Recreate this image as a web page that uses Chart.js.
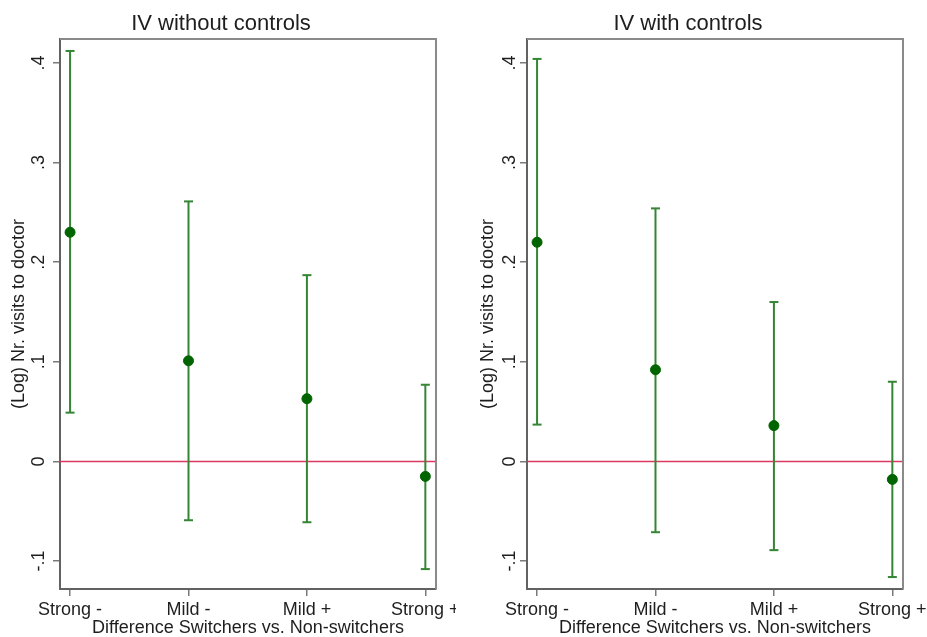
<!DOCTYPE html>
<html>
<head>
<meta charset="utf-8">
<script src="https://cdn.jsdelivr.net/npm/chart.js@4.4.1/dist/chart.umd.min.js"></script>
<style>
  body { margin: 0; background: #fff; }
  #wrap { position: relative; width: 927px; height: 637px; overflow: hidden; }
  canvas { position: absolute; top: 0; }
</style>
</head>
<body>
<div id="wrap">
  <canvas id="left" width="456" height="637" style="left:0"></canvas>
  <canvas id="right" width="461" height="637" style="left:466px"></canvas>
</div>
<script>
"use strict";

// Categories and estimates (point estimate + CI bounds).
const categories = ["Strong -", "Mild -", "Mild +", "Strong +"];

const noCtrlEst = [0.230, 0.101, 0.063, -0.015];
const noCtrlLo  = [0.049, -0.059, -0.061, -0.108];
const noCtrlHi  = [0.412, 0.261, 0.187, 0.077];

const ctrlEst = [0.220, 0.092, 0.036, -0.018];
const ctrlLo  = [0.037, -0.071, -0.089, -0.116];
const ctrlHi  = [0.404, 0.254, 0.160, 0.080];

const yTicks = [-0.1, 0, 0.1, 0.2, 0.3, 0.4];
const yTickLabels = ["-.1", "0", ".1", ".2", ".3", ".4"];

const titles = ["IV without controls", "IV with controls"];
const yTitle = "(Log) Nr. visits to doctor";
const xTitle = "Difference Switchers vs. Non-switchers";

const FONT = "'Liberation Sans', Arial, sans-serif";
const TEXT = "#1e1e1e";
const BAR = "#348534";
const DOT = "#006400";
const ZERO = "#dc3862";
const AXIS = "#626262";
const TICK = "#7a7a7a";
const FRAME = "#8a8a8a";

// Zero line, outer frame and all the text (drawn here so label overflow
// does not push the plot area around).
const panelDecor = {
  id: "panelDecor",
  beforeDatasetsDraw(chart) {
    const { ctx, chartArea: a } = chart;
    const y0 = chart.scales.y.getPixelForValue(0);
    ctx.save();
    ctx.strokeStyle = ZERO;
    ctx.lineWidth = 1.5;
    ctx.beginPath();
    ctx.moveTo(a.left, y0);
    ctx.lineTo(a.right, y0);
    ctx.stroke();
    ctx.restore();
  },
  afterDraw(chart, args, opts) {
    const { ctx, chartArea: a } = chart;
    const { x, y } = chart.scales;
    ctx.save();
    // top + right frame
    ctx.strokeStyle = FRAME;
    ctx.lineWidth = 2;
    ctx.beginPath();
    ctx.moveTo(a.left, a.top);
    ctx.lineTo(a.right, a.top);
    ctx.lineTo(a.right, a.bottom);
    ctx.stroke();

    ctx.fillStyle = TEXT;
    ctx.textAlign = "center";
    ctx.textBaseline = "middle";

    // panel title
    ctx.font = `22px ${FONT}`;
    ctx.fillText(opts.title, (a.left + a.right) / 2 - 27, 24);

    // x tick labels + axis title
    ctx.font = `18px ${FONT}`;
    categories.forEach((c, i) => ctx.fillText(c, x.getPixelForValue(i), 610));
    ctx.fillText(xTitle, (a.left + a.right) / 2, 628);

    // y tick labels, rotated
    yTicks.forEach((v, i) => {
      ctx.save();
      ctx.translate(a.left - opts.tickOff, y.getPixelForValue(v));
      ctx.rotate(-Math.PI / 2);
      ctx.fillText(yTickLabels[i], 0, 0);
      ctx.restore();
    });

    // y axis title
    ctx.save();
    ctx.translate(a.left - opts.titleOff, (a.top + a.bottom) / 2);
    ctx.rotate(-Math.PI / 2);
    ctx.fillText(yTitle, 0, 0);
    ctx.restore();

    ctx.restore();
  },
};

function makePanel(canvasId, title, est, lo, hi, padRight, yWidth, tickOff, titleOff) {
  const datasets = [
    {
      type: "scatter",
      data: est.map((v, i) => ({ x: i, y: v })),
      backgroundColor: DOT,
      borderColor: DOT,
      pointRadius: 5,
      pointHoverRadius: 5,
      order: 0,
    },
  ];
  categories.forEach((_, i) => {
    datasets.push({
      type: "line",
      data: [{ x: i, y: lo[i] }, { x: i, y: hi[i] }],
      borderColor: BAR,
      borderWidth: 2,
      pointStyle: "line",
      pointRadius: 4.5,
      pointBorderWidth: 2,
      pointBorderColor: BAR,
      pointHoverRadius: 4.5,
      order: 1,
    });
  });

  return new Chart(document.getElementById(canvasId), {
    data: { datasets },
    plugins: [panelDecor],
    options: {
      responsive: false,
      animation: false,
      events: [],
      layout: { autoPadding: false, padding: { top: 39, right: padRight, left: 0, bottom: 0 } },
      plugins: {
        legend: { display: false },
        tooltip: { enabled: false },
        panelDecor: { title, tickOff, titleOff },
      },
      scales: {
        x: {
          type: "linear",
          min: -0.085,
          max: 3.09,
          afterBuildTicks: (s) => { s.ticks = categories.map((_, i) => ({ value: i })); },
          afterFit: (s) => { s.height = 48; },
          ticks: { display: false },
          grid: { drawOnChartArea: false, drawTicks: true, tickLength: 7, color: TICK, lineWidth: 1.5 },
          border: { display: true, color: AXIS, width: 2 },
        },
        y: {
          type: "linear",
          min: -0.128,
          max: 0.424,
          afterBuildTicks: (s) => { s.ticks = yTicks.map((v) => ({ value: v })); },
          afterFit: (s) => { s.width = yWidth; },
          ticks: { display: false },
          grid: { drawOnChartArea: false, drawTicks: true, tickLength: 7, color: TICK, lineWidth: 1.5 },
          border: { display: true, color: AXIS, width: 2 },
        },
      },
    },
  });
}

makePanel("left", titles[0], noCtrlEst, noCtrlLo, noCtrlHi, 20, 60, 21, 41);
makePanel("right", titles[1], ctrlEst, ctrlLo, ctrlHi, 24, 61, 17, 39);
</script>
</body>
</html>
